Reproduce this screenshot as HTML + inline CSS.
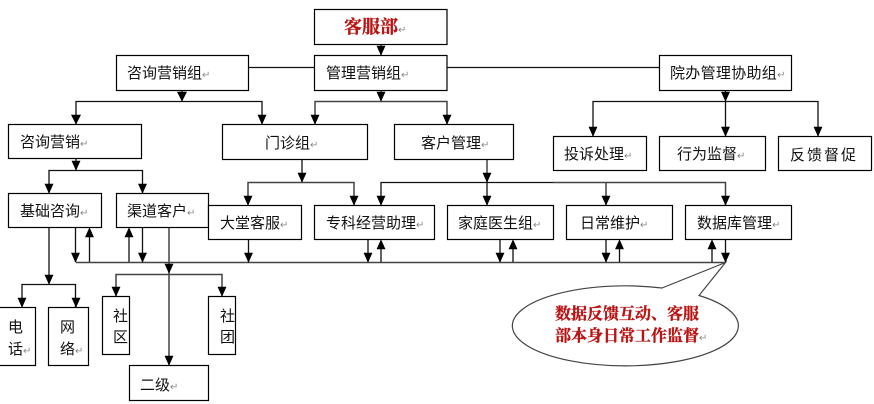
<!DOCTYPE html>
<html lang="zh-CN">
<head>
<meta charset="utf-8">
<title>客服部</title>
<style>
html,body{margin:0;padding:0;background:#fff;width:874px;height:404px;overflow:hidden}
svg{display:block}
.b{fill:#fff;stroke:#000;stroke-width:1.2}
.l{fill:none;stroke:#111;stroke-width:1.3}
.g{fill:none;stroke:#444;stroke-width:1.5}
.a{fill:#000;stroke:#000;stroke-width:.6}
text{font-family:"Liberation Sans","WenQuanYi Zen Hei","Noto Sans CJK SC",sans-serif;font-size:15px;fill:#111}
.r{font-family:"Liberation Serif","Noto Serif CJK SC",serif;font-weight:700;fill:#b81414;stroke:#b81414;stroke-width:.35}
tspan.p{font-family:"DejaVu Sans",sans-serif;font-size:10px;fill:#888;stroke:none;font-weight:400}
</style>
</head>
<body>
<svg width="874" height="404" viewBox="0 0 874 404" xmlns="http://www.w3.org/2000/svg">
<!-- connector lines -->
<path class="l" d="M248 67.500H314M447 67.500H659M381 44V55M381 90V101"/>
<path class="l" d="M182 90V101M76 124V101.500H262V124"/>
<path class="g" d="M315 124V101.500H447V124"/>
<path class="l" d="M725.500 90V136M593 136V101.500H818V136"/>
<path class="l" d="M76 158V170M49 193V170.500H142.500V193"/>
<path class="l" d="M302 159V182"/>
<path class="g" d="M248 205V182.500H354V205"/>
<path class="g" d="M487 159V182"/>
<path class="l" d="M381 205V182.500H553M487 182V205"/>
<path class="g" d="M553 182.500H725.500V205M606 182.500V205"/>
<path class="l" d="M49 227V284M22 307V284.500H75.500V307"/>
<path class="l" d="M75.500 227V262M89.500 262V235M129 262V235M142.500 227V262"/>
<path class="g" d="M169 227V365M116 296V274.500H222V296"/>
<path class="g" d="M76 262.500H725.500"/>
<path class="l" d="M248.500 239V262M368 239V262M381 262V246M500 239V262M513 262V246M606 239V262M619.500 262V246M712 262V246M725.500 239V262"/>
<!-- down arrowheads -->
<path class="a" d="M381 55l-4-9h8zM381 101l-4-9h8zM182 101l-4.500-9h9zM76 124l-4.500-9h9zM262 124l-4-9h8zM315 124l-4-9h8zM447 124l-4-9h8zM725.500 101l-4-9h8zM593 136l-4-9h8zM725.500 136l-4-9h8zM818 136l-4-9h8zM76 170l-4-9h8zM49 193l-4-9h8zM142.500 193l-4-9h8zM302 182l-4-9h8zM248 205l-4-9h8zM354 205l-4-9h8zM381 205l-4-9h8zM487 182l-4-9h8zM487 205l-4-9h8zM606 205l-4-9h8zM725.500 205l-4-9h8zM49 284l-4-9h8zM22 307l-4-9h8zM76 307l-4-9h8zM75.500 262l-4-9h8zM142.500 262l-4-9h8zM169 273l-4-9h8zM116 296l-4-9h8zM222 296l-4-9h8zM169 365l-4-9h8zM248.500 262l-4-9h8zM368 262l-4-9h8zM500 262l-4-9h8zM606 262l-4-9h8zM725.500 262l-4-9h8z"/>
<!-- up arrowheads -->
<path class="a" d="M89.500 228l-4 9h8zM129 228l-4 9h8zM381 240l-4 9h8zM513 240l-4 9h8zM619.500 240l-4 9h8zM712 240l-4 9h8z"/>
<!-- boxes -->
<rect class="b" x="314.500" y="9.500" width="132.500" height="35"/>
<rect class="b" x="314.500" y="55.500" width="132.500" height="35"/>
<rect class="b" x="116.500" y="55.500" width="132" height="35"/>
<rect class="b" x="659.500" y="55.500" width="132" height="35"/>
<rect class="b" x="8.500" y="124.500" width="133" height="34"/>
<rect class="b" x="222.500" y="124.500" width="145" height="35"/>
<rect class="b" x="394.500" y="124.500" width="119" height="35"/>
<rect class="b" x="553.500" y="136.500" width="93" height="34"/>
<rect class="b" x="659.500" y="136.500" width="106" height="34"/>
<rect class="b" x="778.500" y="136.500" width="93" height="34"/>
<rect class="b" x="8.500" y="193.500" width="93" height="34"/>
<rect class="b" x="116.500" y="193.500" width="92" height="34"/>
<rect class="b" x="208.500" y="205.500" width="93" height="34"/>
<rect class="b" x="314.500" y="205.500" width="120" height="34"/>
<rect class="b" x="447.500" y="205.500" width="106" height="34"/>
<rect class="b" x="566.500" y="205.500" width="106" height="34"/>
<rect class="b" x="685.500" y="205.500" width="106" height="34"/>
<rect class="b" x="-2" y="307.500" width="37.500" height="58"/>
<rect class="b" x="48.500" y="307.500" width="40" height="58"/>
<rect class="b" x="102.500" y="296.500" width="27" height="58"/>
<rect class="b" x="208.500" y="296.500" width="27" height="58"/>
<rect class="b" x="129.500" y="365.500" width="79" height="35"/>
<!-- callout -->
<path d="M662 288L725.500 262.500L699 295.500A113 40 0 1 1 662 288Z" fill="#fff" stroke="#444" stroke-width="1.2"/>
<!-- labels -->
<text class="r" x="344" y="33" style="font-size:18px">客服部<tspan class="p">↵</tspan></text>
<text x="326" y="78">管理营销组<tspan class="p">↵</tspan></text>
<text x="127" y="78">咨询营销组<tspan class="p">↵</tspan></text>
<text x="670" y="78" style="letter-spacing:.3px">院办管理协助组<tspan class="p">↵</tspan></text>
<text x="20" y="147">咨询营销<tspan class="p">↵</tspan></text>
<text x="265" y="148">门诊组<tspan class="p">↵</tspan></text>
<text x="421" y="148">客户管理<tspan class="p">↵</tspan></text>
<text x="564" y="159">投诉处理<tspan class="p">↵</tspan></text>
<text x="677" y="159">行为监督<tspan class="p">↵</tspan></text>
<text x="790" y="160" style="letter-spacing:2px">反馈督促</text>
<text x="20" y="216">基础咨询<tspan class="p">↵</tspan></text>
<text x="127" y="216">渠道客户<tspan class="p">↵</tspan></text>
<text x="220" y="228">大堂客服<tspan class="p">↵</tspan></text>
<text x="326" y="228">专科经营助理<tspan class="p">↵</tspan></text>
<text x="458" y="228">家庭医生组<tspan class="p">↵</tspan></text>
<text x="580" y="228">日常维护<tspan class="p">↵</tspan></text>
<text x="697" y="228">数据库管理<tspan class="p">↵</tspan></text>
<text x="8" y="332">电</text>
<text x="8" y="354">话<tspan class="p">↵</tspan></text>
<text x="60" y="332">网</text>
<text x="60" y="354">络<tspan class="p">↵</tspan></text>
<text x="113" y="321">社</text>
<text x="113" y="342">区</text>
<text x="220" y="321">社</text>
<text x="220" y="342">团</text>
<text x="140" y="390">二级<tspan class="p">↵</tspan></text>
<text class="r" x="555" y="319" style="font-size:16px">数据反馈互动、客服</text>
<text class="r" x="555" y="341" style="font-size:16px">部本身日常工作监督<tspan class="p">↵</tspan></text>
</svg>
</body>
</html>
